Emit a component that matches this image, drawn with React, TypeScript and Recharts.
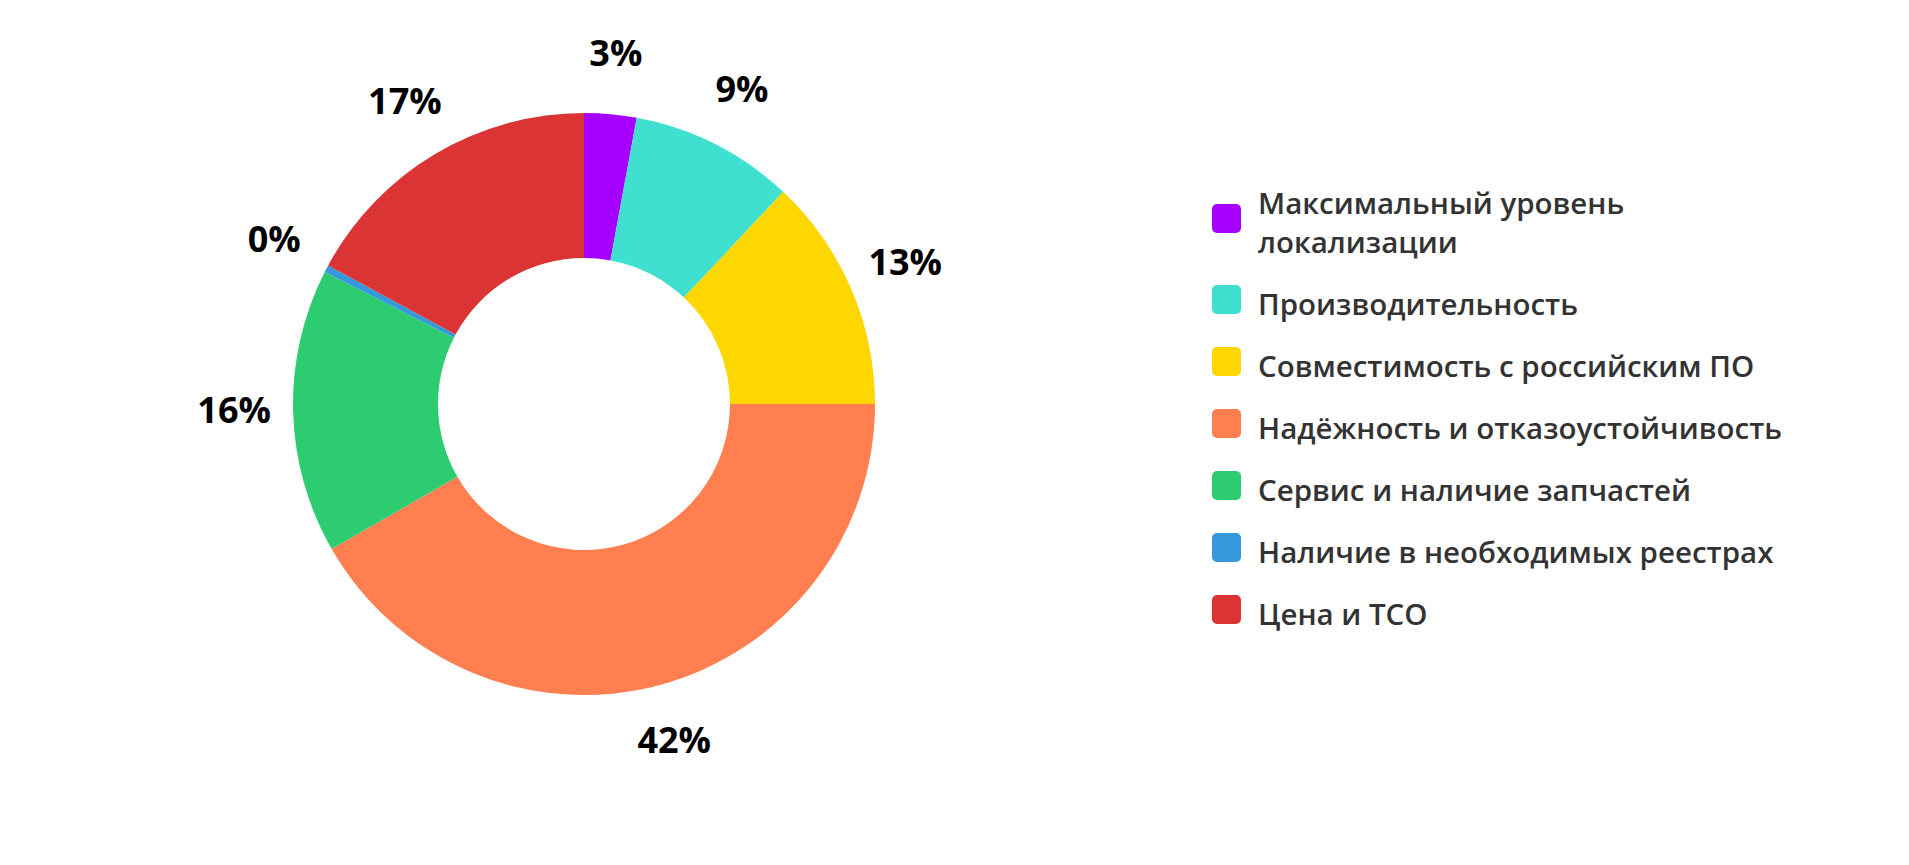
import React from "react";
import { PieChart, Pie, Cell, Legend } from "recharts";

const categories = [
  "Максимальный уровень локализации",
  "Производительность",
  "Совместимость с российским ПО",
  "Надёжность и отказоустойчивость",
  "Сервис и наличие запчастей",
  "Наличие в необходимых реестрах",
  "Цена и TCO",
];

const shares = [2.9, 9.1, 13.0, 41.7, 15.8, 0.4, 17.1];

const colors = [
  "#a600ff",
  "#40e0d0",
  "#ffd700",
  "#ff7f50",
  "#2ecc71",
  "#3498db",
  "#da3434",
];

const data = categories.map((name, i) => ({ name, value: shares[i] }));

const RAD = Math.PI / 180;

const renderLabel = (props: any) => {
  const { cx, cy, midAngle, outerRadius, percent } = props;
  const r = outerRadius + 59;
  const x = cx + r * Math.cos(-midAngle * RAD);
  const y = cy + r * Math.sin(-midAngle * RAD) - 3;
  return (
    <text
      x={x}
      y={y}
      textAnchor="middle"
      dominantBaseline="central"
      fill="#000"
      fontSize={36}
      fontWeight={700}
      fontFamily="'Open Sans', sans-serif"
    >
      {`${Math.round(percent * 100)}%`}
    </text>
  );
};

const renderLegend = (props: any) => {
  // keep the legend in data order, not alphabetical
  const items = [...(props.payload || [])].sort(
    (a: any, b: any) => categories.indexOf(a.value) - categories.indexOf(b.value)
  );
  return (
    <div style={{ fontFamily: "'Open Sans', sans-serif", width: 600 }}>
      {items.map((entry: any, i: number) => (
        <div
          key={i}
          style={{
            display: "flex",
            alignItems: "center",
            marginBottom: 23,
          }}
        >
          <div
            style={{
              width: 29,
              height: 29,
              borderRadius: 5,
              background: entry.color,
              flexShrink: 0,
              marginRight: 17,
              position: "relative",
              top: -4,
            }}
          />
          <div
            style={{
              fontSize: 29.5,
              fontWeight: 600,
              lineHeight: "39px",
              color: "#333333",
              maxWidth: 545,
            }}
          >
            {entry.value}
          </div>
        </div>
      ))}
    </div>
  );
};

export default function App() {
  return (
    <PieChart
      width={1893}
      height={845}
      margin={{ top: 0, right: 0, bottom: 0, left: 0 }}
    >
      <Pie
        data={data}
        dataKey="value"
        nameKey="name"
        cx={576}
        cy={396}
        innerRadius={146}
        outerRadius={291}
        startAngle={90}
        endAngle={-270}
        stroke="none"
        label={renderLabel}
        labelLine={false}
        isAnimationActive={false}
      >
        {data.map((_, i) => (
          <Cell key={i} fill={colors[i]} />
        ))}
      </Pie>
      <Legend
        layout="vertical"
        align="right"
        verticalAlign="top"
        content={renderLegend}
        wrapperStyle={{ left: 1204, top: 175, width: 620 }}
      />
    </PieChart>
  );
}
